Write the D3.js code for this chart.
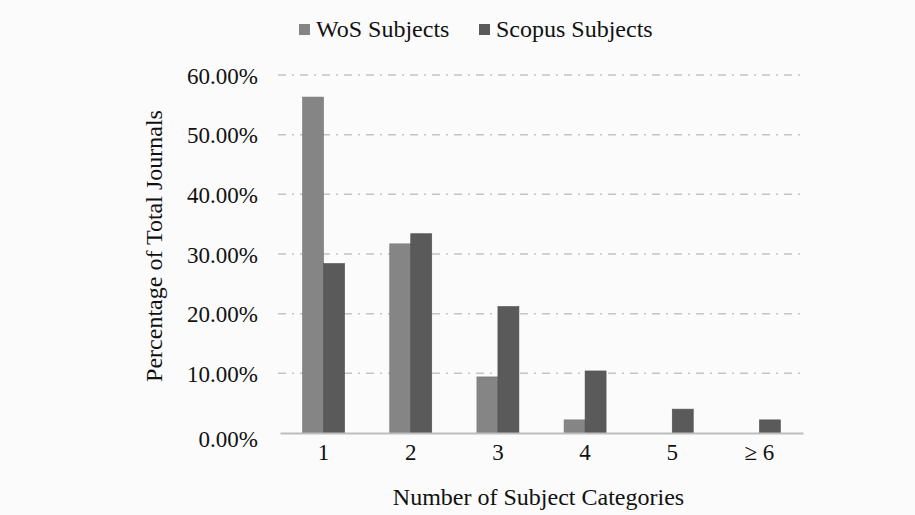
<!DOCTYPE html>
<html>
<head>
<meta charset="utf-8">
<script src="https://cdn.jsdelivr.net/npm/d3@7"></script>
</head>
<body style="margin:0;background:#fbfbfb">
<svg id="chart" width="915" height="515" font-family="Liberation Serif, Times New Roman, Tinos, serif"></svg>
<script>
const categories = ["1", "2", "3", "4", "5", "\u2265 6"];
const seriesNames = ["WoS Subjects", "Scopus Subjects"];
const wosValues = [56.3, 31.7, 9.4, 2.2, 0, 0];
const scopusValues = [28.4, 33.4, 21.2, 10.4, 4.0, 2.2];
const yTicks = [0, 10, 20, 30, 40, 50, 60];
const colors = ["#858585", "#5a5a5a"];
const fontStack = "'Liberation Serif', 'Times New Roman', Tinos, serif";

const svg = d3.select("#chart");
const margin = {top: 75, right: 112, bottom: 82, left: 280};
const width = 915 - margin.left - margin.right;
const height = 515 - margin.top - margin.bottom;
const g = svg.append("g").attr("transform", `translate(${margin.left},${margin.top})`);

const x = d3.scaleBand().domain(categories).range([0, width]);
const x1 = d3.scaleBand().domain(seriesNames).range([x.bandwidth() / 2 - 21, x.bandwidth() / 2 + 21]);
const y = d3.scaleLinear().domain([0, 60]).range([height, 0]);

// gridlines
g.append("g")
  .selectAll("line")
  .data(yTicks.filter(d => d > 0))
  .join("line")
  .attr("x1", -2).attr("x2", width + 2)
  .attr("y1", d => y(d)).attr("y2", d => y(d))
  .attr("stroke", "#c4c4c4")
  .attr("stroke-width", 1.5)
  .attr("stroke-dasharray", "8,6,2,6");

// y labels
const yAxis = g.append("g").call(d3.axisLeft(y).tickValues(yTicks).tickSize(0).tickPadding(22)
  .tickFormat(d => d.toFixed(2) + "%"));
yAxis.attr("font-family", null).attr("font-size", null);
yAxis.select(".domain").remove();
yAxis.selectAll("text")
  .attr("font-size", 23)
  .attr("fill", "#111")
  .attr("dy", d => d === 0 ? "0.6em" : "0.35em");

// bars
const rows = categories.map((c, i) => ({cat: c, vals: [wosValues[i], scopusValues[i]]}));
g.append("g")
  .selectAll("g")
  .data(rows)
  .join("g")
  .attr("transform", d => `translate(${x(d.cat)},0)`)
  .selectAll("rect")
  .data(d => d.vals.map((v, j) => ({name: seriesNames[j], v, j})).filter(d => d.v > 0))
  .join("rect")
  .attr("x", d => x1(d.name))
  .attr("width", x1.bandwidth())
  .attr("y", d => y(d.v))
  .attr("height", d => y(0) - y(d.v))
  .attr("fill", d => colors[d.j])
  .attr("stroke", d => d3.color(colors[d.j]).darker(0.3))
  .attr("stroke-width", 0.6);

// x axis
const xAxis = g.append("g").attr("transform", `translate(0,${height})`)
  .call(d3.axisBottom(x).tickSize(0).tickPadding(11));
xAxis.attr("font-family", null).attr("font-size", null);
xAxis.select(".domain").attr("stroke", "#bdbdbd").attr("stroke-width", 2);
xAxis.selectAll("text").attr("font-size", 23).attr("fill", "#111");

// axis titles
svg.append("text")
  .attr("x", margin.left + width / 2 - 3)
  .attr("y", 505)
  .attr("text-anchor", "middle")
  .attr("font-size", 24)
  .attr("fill", "#111")
  .text("Number of Subject Categories");

svg.append("text")
  .attr("transform", `translate(162,${margin.top + height / 2 - 8}) rotate(-90)`)
  .attr("text-anchor", "middle")
  .attr("font-size", 24)
  .attr("fill", "#111")
  .text("Percentage of Total Journals");

// legend
const legend = svg.append("g");
const legendX = [299, 479];
seriesNames.forEach((name, i) => {
  legend.append("rect")
    .attr("x", legendX[i]).attr("y", 24)
    .attr("width", 11).attr("height", 11)
    .attr("fill", colors[i]);
  legend.append("text")
    .attr("x", legendX[i] + 17).attr("y", 37)
    .attr("font-size", 24)
    .attr("fill", "#111")
    .text(name);
});

svg.selectAll("text").style("font-family", fontStack);
</script>
</body>
</html>
